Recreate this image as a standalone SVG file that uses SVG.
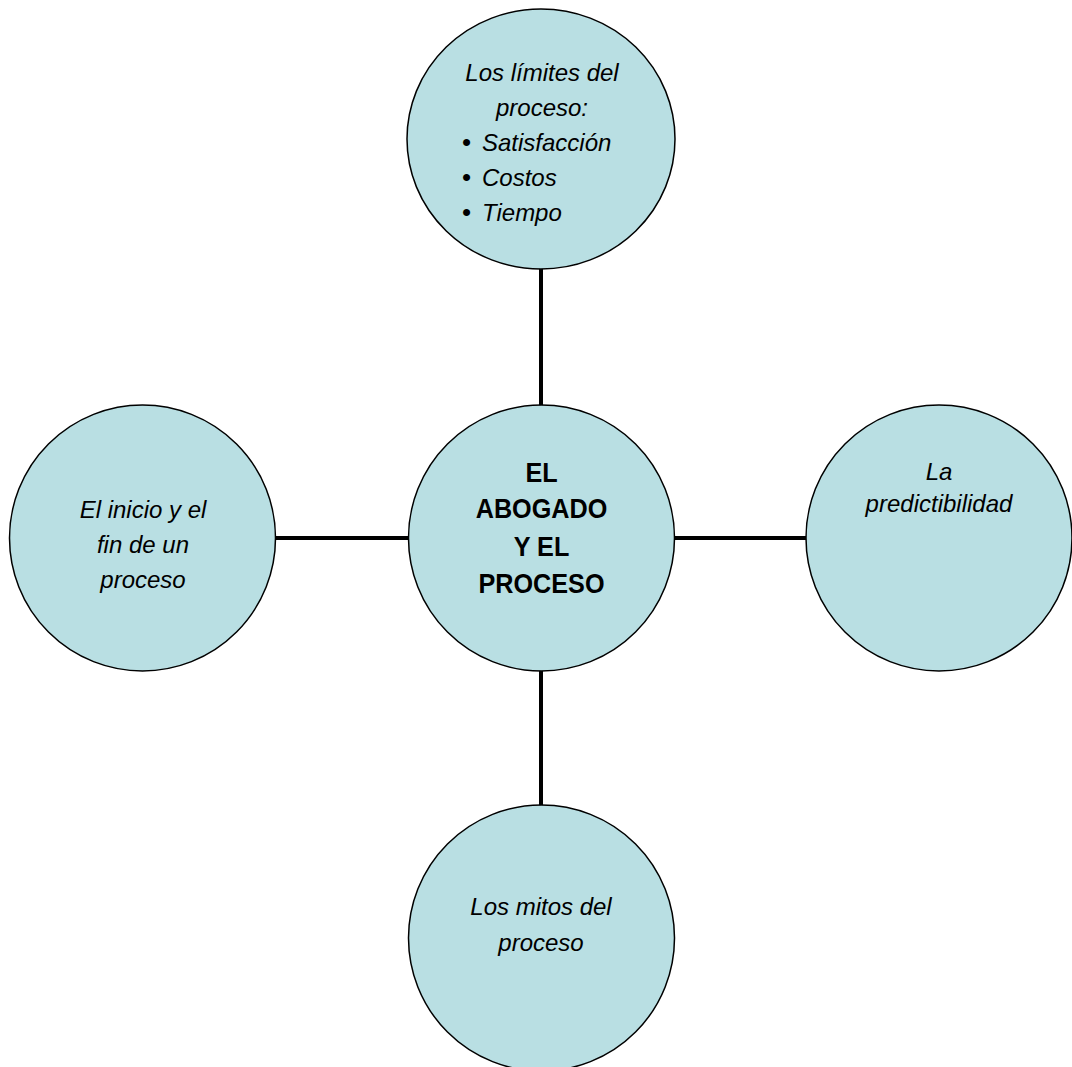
<svg xmlns="http://www.w3.org/2000/svg" width="1072" height="1067" viewBox="0 0 1072 1067">
<style>
.node{fill:#B9DFE3;stroke:#000;stroke-width:1.5}
.conn{stroke:#000;stroke-width:4;fill:none}
.it{font-family:"Liberation Sans",Arial,sans-serif;font-style:italic;font-size:24px;fill:#000;text-anchor:middle}
.li{font-family:"Liberation Sans",Arial,sans-serif;font-style:italic;font-size:24px;fill:#000;text-anchor:start}
.bul{font-style:normal;font-size:26px}
.bd{font-family:"Liberation Sans",Arial,sans-serif;font-weight:bold;font-size:28px;fill:#000;text-anchor:middle}
</style>
<rect width="1072" height="1067" fill="#fff"/>
<g id="connectors">
<line class="conn" x1="541" y1="268" x2="541" y2="406"/>
<line class="conn" x1="541" y1="670" x2="541" y2="806"/>
<line class="conn" x1="276" y1="538" x2="409" y2="538"/>
<line class="conn" x1="674" y1="538" x2="807" y2="538"/>
</g>
<g id="node-top">
<ellipse class="node" cx="541" cy="139" rx="134" ry="130"/>
<text class="it" x="542" y="81">Los límites del</text>
<text class="it" x="542" y="116">proceso:</text>
<text class="li" x="462" y="151"><tspan class="bul">•</tspan><tspan x="482">Satisfacción</tspan></text>
<text class="li" x="462" y="186"><tspan class="bul">•</tspan><tspan x="482">Costos</tspan></text>
<text class="li" x="462" y="221"><tspan class="bul">•</tspan><tspan x="482">Tiempo</tspan></text>
</g>
<g id="node-center">
<circle class="node" cx="541.5" cy="538" r="133"/>
<g transform="translate(541.5,0) scale(0.9,1)">
<text class="bd" x="0" y="482">EL</text>
<text class="bd" x="0" y="518">ABOGADO</text>
<text class="bd" x="0" y="556">Y EL</text>
<text class="bd" x="0" y="593">PROCESO</text>
</g>
</g>
<g id="node-left">
<circle class="node" cx="142.5" cy="538" r="133"/>
<text class="it" x="143" y="518">El inicio y el</text>
<text class="it" x="143" y="553">fin de un</text>
<text class="it" x="143" y="588">proceso</text>
</g>
<g id="node-right">
<circle class="node" cx="939" cy="538" r="133"/>
<text class="it" x="939" y="480">La</text>
<text class="it" x="939" y="512">predictibilidad</text>
</g>
<g id="node-bottom">
<circle class="node" cx="541.5" cy="938" r="133"/>
<text class="it" x="541" y="915">Los mitos del</text>
<text class="it" x="541" y="951">proceso</text>
</g>
</svg>
